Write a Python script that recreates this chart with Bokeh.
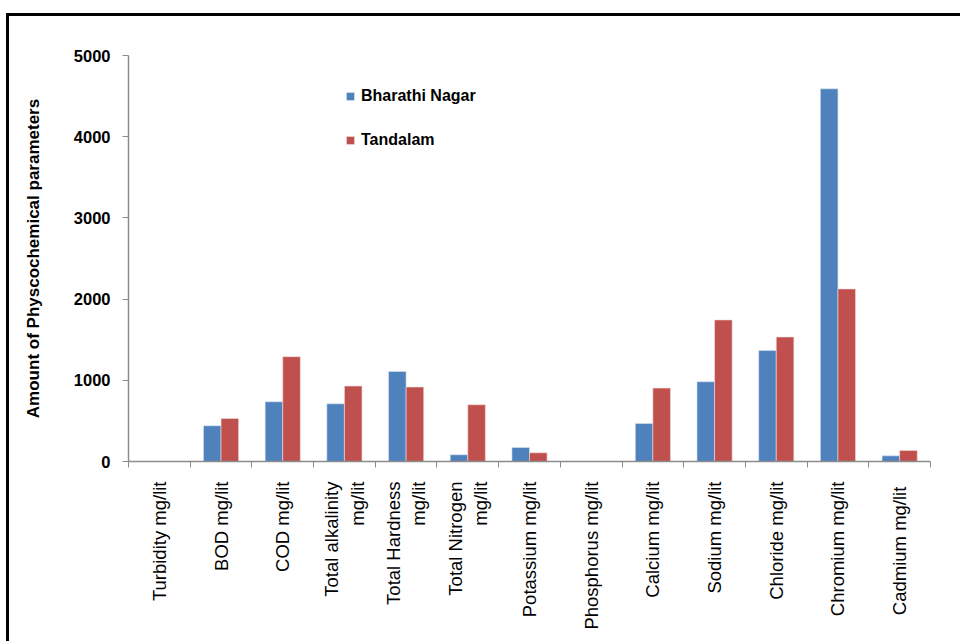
import math
from bokeh.plotting import figure
from bokeh.models import (ColumnDataSource, FixedTicker, Legend, LegendItem,
                          Range1d, GlobalInlineStyleSheet)
from bokeh.transform import dodge
from bokeh.embed import file_html
from bokeh.resources import INLINE

categories = ["Turbidity mg/lit", "BOD mg/lit", "COD mg/lit",
              "Total alkalinity\nmg/lit", "Total Hardness\nmg/lit",
              "Total Nitrogen\nmg/lit", "Potassium mg/lit", "Phosphorus mg/lit",
              "Calcium mg/lit", "Sodium mg/lit", "Chloride mg/lit",
              "Chromium mg/lit", "Cadmium  mg/lit"]
bharathi_nagar = [0, 440, 736, 711, 1109, 83, 173, 0, 469, 982, 1368, 4590, 70]
tandalam = [0, 530, 1291, 929, 917, 699, 107, 0, 904, 1743, 1533, 2125, 136]
series_names = ["Bharathi Nagar", "Tandalam"]
y_ticks = [0, 1000, 2000, 3000, 4000, 5000]
y_label = "Amount of Physcochemical parameters"

BLUE = "#4F81BD"
RED = "#C0504D"
AXIS = "#8C8C8C"
FONT = "Liberation Sans"

n = len(categories)
centers = [i + 0.5 for i in range(n)]
bounds = list(range(n + 1))

source = ColumnDataSource(dict(x=centers, bn=bharathi_nagar, td=tandalam))

p = figure(width=960, height=641, output_backend="svg", toolbar_location=None,
           x_range=Range1d(0, n), y_range=Range1d(0, 5000),
           min_border_left=119, min_border_right=39,
           min_border_top=39, min_border_bottom=196)
# outer black frame of the original picture (only left and top edges visible)
p.styles = {"margin-left": "9px", "margin-top": "16px",
            "box-shadow": "-3px -3px 0px 0px black"}
p.stylesheets = [GlobalInlineStyleSheet(
    css="html, body { margin: 0; padding: 0; overflow: hidden; background: white; }")]
p.background_fill_color = "white"
p.border_fill_color = "white"
p.outline_line_color = None
p.xgrid.visible = False
p.ygrid.visible = False

bar_w = 0.285
r1 = p.vbar(x=dodge("x", -bar_w / 2, range=p.x_range), top="bn", width=bar_w,
            bottom=0, source=source, fill_color=BLUE, line_color="#DCE6F2",
            line_width=0.6)
r2 = p.vbar(x=dodge("x", bar_w / 2, range=p.x_range), top="td", width=bar_w,
            bottom=0, source=source, fill_color=RED, line_color="#F2DCDB",
            line_width=0.6)

# x axis: labels at category centres, tick marks at category boundaries
xa = p.xaxis[0]
xa.ticker = FixedTicker(ticks=centers, minor_ticks=bounds)
xa.major_label_overrides = {c: lab for c, lab in zip(centers, categories)}
xa.major_label_orientation = math.pi / 2
xa.major_tick_out = 0
xa.major_tick_in = 0
xa.minor_tick_out = 6
xa.minor_tick_in = 0
xa.minor_tick_line_color = AXIS
xa.axis_line_color = AXIS
xa.axis_line_width = 1.5
xa.major_label_standoff = 14
xa.major_label_text_font = FONT
xa.major_label_text_font_size = "18.5px"
xa.major_label_text_color = "black"

ya = p.yaxis[0]
ya.ticker = FixedTicker(ticks=y_ticks, minor_ticks=[])
ya.major_tick_out = 6
ya.major_tick_in = 0
ya.major_tick_line_color = AXIS
ya.axis_line_color = AXIS
ya.axis_line_width = 1.5
ya.major_label_standoff = 12
ya.major_label_text_font = FONT
ya.major_label_text_font_style = "bold"
ya.major_label_text_font_size = "16.5px"
ya.major_label_text_color = "black"
ya.axis_label = y_label
ya.axis_label_text_font = FONT
ya.axis_label_text_font_style = "bold"
ya.axis_label_text_font_size = "17px"
ya.axis_label_text_color = "black"
ya.axis_label_standoff = 28

legend = Legend(items=[LegendItem(label=series_names[0], renderers=[r1]),
                       LegendItem(label=series_names[1], renderers=[r2])],
                location=(217, 311), orientation="vertical",
                glyph_width=10, glyph_height=10, label_height=20,
                spacing=24, padding=0, margin=0, label_standoff=6,
                border_line_color=None, background_fill_alpha=0,
                label_text_font=FONT, label_text_font_style="bold",
                label_text_font_size="16px", label_text_color="black")
p.add_layout(legend, "center")

open("out.html", "w").write(file_html(p, INLINE))
